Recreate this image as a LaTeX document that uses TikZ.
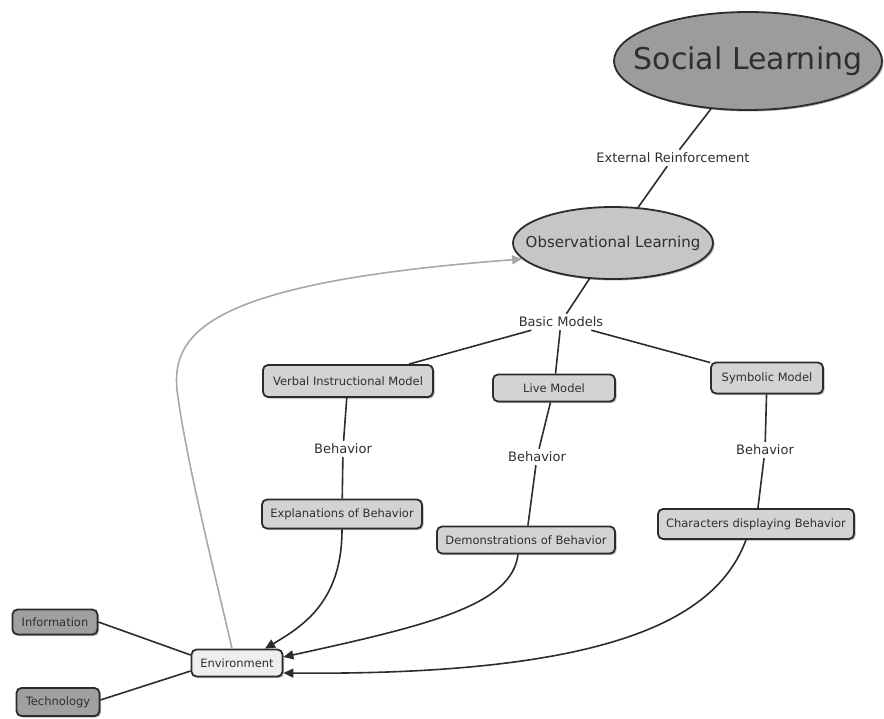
\documentclass[tikz,border=0pt]{standalone}
\usepackage{fontspec}
\setmainfont{DejaVu Sans}
\usetikzlibrary{shapes.geometric,arrows.meta,shadows,calc}
\definecolor{ink}{HTML}{2C2C2C}
\definecolor{txt}{HTML}{2F2F2F}
\definecolor{socfill}{HTML}{9C9C9C}
\definecolor{obsfill}{HTML}{C6C6C6}
\definecolor{boxfill}{HTML}{D3D3D3}
\definecolor{darkfill}{HTML}{A0A0A0}
\definecolor{envfill}{HTML}{EEEEEE}
\definecolor{grayarrow}{HTML}{A8A8A8}
\begin{document}
\begin{tikzpicture}[x=1pt,y=-1pt,
  every node/.style={text=txt},
  every label/.style={text=txt},
  shad/.style={drop shadow={shadow xshift=1.5pt,shadow yshift=-1.5pt,opacity=0.3,fill=black}},
  ell/.style={ellipse, draw=ink, line width=1.8pt, inner sep=0pt, shad},
  box/.style={rectangle, rounded corners=5pt, draw=ink, line width=1.8pt, fill=boxfill,
    inner sep=0pt, font=\fontsize{11.5}{13}\selectfont, shad},
  lab/.style={font=\fontsize{13}{15}\selectfont, inner sep=3pt},
  conn/.style={draw=ink, line width=1.6pt},
  arr/.style={conn, -{Triangle[length=10pt,width=9pt]}},
]
\useasboundingbox (0,0) rectangle (884,718);

% ellipses (text set as a centred label so the shape keeps its size)
\node[ell, fill=socfill, minimum width=268pt, minimum height=98pt,
  label={[font=\fontsize{30}{32}\selectfont]center:Social Learning}] (soc) at (748,61) {};
\node[ell, fill=obsfill, minimum width=200pt, minimum height=72pt,
  label={[font=\fontsize{15}{17}\selectfont]center:Observational Learning}] (obs) at (613,243) {};

% labels
\node[lab] (ext) at (673,158) {External Reinforcement};
\node[lab] (basic) at (561,322) {Basic Models};
\node[lab] (beh1) at (343,449) {Behavior};
\node[lab] (beh2) at (537,457) {Behavior};
\node[lab] (beh3) at (765,450) {Behavior};

% boxes
\node[box, minimum width=170pt, minimum height=32pt] (verbal) at (348,381) {Verbal Instructional Model};
\node[box, minimum width=122pt, minimum height=27pt] (live) at (554,388) {Live Model};
\node[box, minimum width=112pt, minimum height=31pt] (sym) at (767,378) {Symbolic Model};
\node[box, minimum width=160pt, minimum height=29pt] (expl) at (342,514) {Explanations of Behavior};
\node[box, minimum width=178pt, minimum height=27pt] (demo) at (526,540) {Demonstrations of Behavior};
\node[box, minimum width=196pt, minimum height=30pt] (char) at (756,524) {Characters displaying Behavior};
\node[box, fill=darkfill, minimum width=85pt, minimum height=25pt] (info) at (55,622) {Information};
\node[box, fill=envfill, minimum width=91pt, minimum height=27pt] (env) at (237,663) {Environment};
\node[box, fill=darkfill, minimum width=83pt, minimum height=28pt] (tech) at (58,702) {Technology};

% plain connectors
\draw[conn] (soc) -- (ext);
\draw[conn] (ext) -- (obs);
\draw[conn] (obs) -- (basic);
\draw[conn] (basic) -- (verbal);
\draw[conn] (basic) -- (live);
\draw[conn] (basic) -- (sym);
\draw[conn] (verbal) -- (beh1);
\draw[conn] (beh1) -- (expl);
\draw[conn] (live) -- (beh2);
\draw[conn] (beh2) -- (demo);
\draw[conn] (sym) -- (beh3);
\draw[conn] (beh3) -- (char);
\draw[conn] (info.east) -- ($(env.west)+(0,-8)$);
\draw[conn] ($(tech.east)+(0,-2)$) -- ($(env.west)+(0,8)$);

% curved arrows into Environment
\coordinate (envA) at ($(env.north)+(28,0)$);
\coordinate (envB) at ($(env.east)+(0,-6)$);
\coordinate (envC) at ($(env.east)+(0,10)$);
\draw[arr] (expl.south) .. controls (342,600) and (305,625) .. (envA);
\draw[arr] ($(demo.south)+(-8,0)$) .. controls (512,605) and (430,625) .. (envB);
\draw[arr] ($(char.south)+(-10,0)$) .. controls (718,615) and (620,676) .. (envC);

% gray feedback arrow
\coordinate (envT) at ($(env.north)+(-5,0)$);
\coordinate (bend) at (177,390);
\draw[draw=grayarrow, line width=1.6pt, -{Triangle[length=10pt,width=9pt]}]
  (envT) .. controls (214,570) and (186,460) .. (bend)
  .. controls (171,330) and (215,282) .. (obs.190);
\end{tikzpicture}
\end{document}
